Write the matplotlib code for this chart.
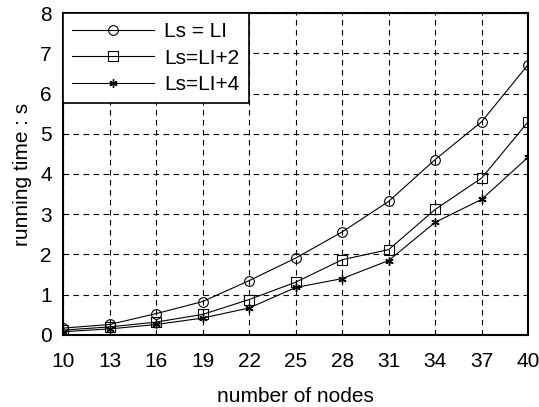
import matplotlib
matplotlib.use("Agg")
import matplotlib.pyplot as plt

# running time vs number of nodes
nodes = [10, 13, 16, 19, 22, 25, 28, 31, 34, 37, 40]
t_ls_li = [0.17, 0.26, 0.53, 0.83, 1.35, 1.91, 2.56, 3.32, 4.36, 5.30, 6.72]
t_ls_li2 = [0.12, 0.20, 0.32, 0.51, 0.88, 1.31, 1.87, 2.12, 3.12, 3.90, 5.30]
t_ls_li4 = [0.08, 0.15, 0.26, 0.42, 0.67, 1.18, 1.40, 1.85, 2.80, 3.37, 4.42]
labels = ["Ls = LI", "Ls=LI+2", "Ls=LI+4"]

plt.rcParams["font.family"] = ["Liberation Sans", "DejaVu Sans"]

fig = plt.figure(figsize=(5.39, 4.07), dpi=100)
ax = fig.add_axes([0.117, 0.177, 0.863, 0.791])

ax.plot(nodes, t_ls_li, color="black", lw=0.8, marker="o", ms=7,
        mfc="none", mec="black", mew=0.8, label=labels[0])
ax.plot(nodes, t_ls_li2, color="black", lw=0.8, marker="s", ms=6.5,
        mfc="none", mec="black", mew=0.8, label=labels[1])
ax.plot(nodes, t_ls_li4, color="black", lw=0.8, marker=(6, 2, 0), ms=6,
        mec="black", mew=1.0, label=labels[2])

ax.set_xlim(10, 40)
ax.set_ylim(0, 8)
ax.set_xticks(nodes)
ax.set_yticks(range(0, 9))
ax.tick_params(direction="in", length=0, labelsize=15)
ax.tick_params(axis="x", pad=12)
ax.tick_params(axis="y", pad=8)
ax.grid(True, color="black", ls=(0, (5, 4)), lw=0.8)
for s in ax.spines.values():
    s.set_linewidth(1.5)

ax.set_xlabel("number of nodes", fontsize=15, labelpad=12)
ax.set_ylabel("running time : s", fontsize=15, labelpad=6)

leg = ax.legend(loc="upper left", fontsize=15, frameon=True, fancybox=False,
                edgecolor="black", framealpha=1, borderaxespad=0,
                handlelength=3.9, handletextpad=0.5, borderpad=0.45,
                labelspacing=0.35)
leg.get_frame().set_linewidth(1.2)

fig.savefig("out.png", dpi=100)
